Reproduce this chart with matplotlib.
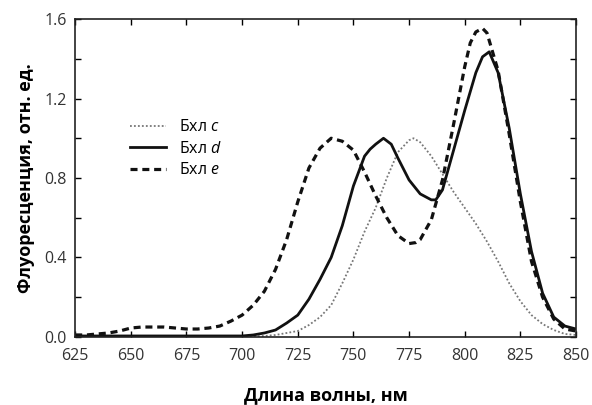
import matplotlib
matplotlib.use("Agg")
import matplotlib.pyplot as plt
from matplotlib.ticker import MultipleLocator

plt.rcParams['font.family'] = ['Open Sans', 'DejaVu Sans']
plt.rcParams['mathtext.fontset'] = 'custom'
plt.rcParams['mathtext.it'] = 'Open Sans:italic'
plt.rcParams['mathtext.rm'] = 'Open Sans'

# Бхл c (dotted)
wl_c = [625, 700, 710, 715, 720, 725, 730, 735, 740, 745, 750, 755, 760, 765, 770,
        775, 777, 780, 785, 790, 795, 800, 805, 810, 815, 820, 825, 830, 835, 840,
        845, 850]
fl_c = [0.0, 0.0, 0.005, 0.01, 0.02, 0.03, 0.06, 0.1, 0.16, 0.27, 0.39, 0.53, 0.65,
        0.8, 0.93, 0.99, 1.0, 0.98, 0.91, 0.82, 0.73, 0.65, 0.57, 0.48, 0.38, 0.27,
        0.18, 0.11, 0.065, 0.035, 0.015, 0.01]

# Бхл d (solid)
wl_d = [625, 650, 675, 700, 705, 710, 715, 720, 725, 730, 735, 740, 745, 750, 755,
        757.5, 760, 763.5, 767, 770, 775, 780, 785, 787, 790, 795, 800, 805, 808, 811,
        815, 820, 825, 830, 835, 840, 845, 850]
fl_d = [0.005, 0.005, 0.005, 0.005, 0.01, 0.02, 0.035, 0.07, 0.11, 0.19, 0.29, 0.4,
        0.56, 0.76, 0.91, 0.945, 0.97, 1.0, 0.97, 0.9, 0.79, 0.72, 0.69, 0.69, 0.74,
        0.94, 1.14, 1.33, 1.41, 1.435, 1.33, 1.05, 0.72, 0.43, 0.22, 0.1, 0.055, 0.04]

# Бхл e (dashed)
wl_e = [625, 630, 635, 640, 645, 650, 655, 660, 665, 670, 675, 680, 685, 690, 695,
        700, 705, 710, 715, 720, 725, 730, 735, 740, 745, 750, 755, 760, 765, 770,
        775, 778, 780, 785, 790, 795, 800, 802.5, 805, 808, 810, 815, 820, 825, 830,
        835, 840, 845, 850]
fl_e = [0.01, 0.01, 0.015, 0.02, 0.03, 0.045, 0.05, 0.05, 0.05, 0.045, 0.04, 0.04,
        0.045, 0.055, 0.08, 0.11, 0.16, 0.23, 0.34, 0.49, 0.68, 0.85, 0.95, 1.0, 0.985,
        0.94, 0.83, 0.71, 0.6, 0.51, 0.47, 0.475, 0.49, 0.59, 0.79, 1.07, 1.36, 1.48,
        1.535, 1.553, 1.53, 1.34, 1.02, 0.68, 0.38, 0.2, 0.09, 0.04, 0.03]

fig, ax = plt.subplots(figsize=(5.92, 4.05), dpi=100)
fig.subplots_adjust(left=0.127, right=0.973, top=0.953, bottom=0.168)

ax.plot(wl_c, fl_c, color='#777777', lw=1.3, ls=(0, (1, 1.2)), label=r'Бхл $\it{c}$')
ax.plot(wl_d, fl_d, color='#111111', lw=2.0, ls='-', label=r'Бхл $\it{d}$')
ax.plot(wl_e, fl_e, color='#111111', lw=2.3, ls=(0, (2.2, 1.5)), label=r'Бхл $\it{e}$')

ax.set_xlim(625, 850)
ax.set_ylim(0, 1.6)
ax.xaxis.set_major_locator(MultipleLocator(25))
ax.yaxis.set_minor_locator(MultipleLocator(0.2))
ax.set_yticks([0, 0.4, 0.8, 1.2, 1.6])
ax.set_yticklabels(['0.0', '0.4', '0.8', '1.2', '1.6'])
ax.tick_params(which='both', direction='in', top=True, right=True,
               labelsize=11.5, labelcolor='#333333', width=1.0, length=4)
ax.tick_params(axis='x', pad=8)
ax.tick_params(axis='y', pad=6)

for s in ax.spines.values():
    s.set_linewidth(1.2)
    s.set_color('#222222')

ax.set_xlabel('Длина волны, нм', fontsize=13, fontweight='bold', labelpad=16)
ax.set_ylabel('Флуоресценция, отн. ед.', fontsize=13, fontweight='bold', labelpad=7)

ax.legend(loc='upper left', bbox_to_anchor=(0.08, 0.73), frameon=False,
          fontsize=11.5, handlelength=2.3, labelspacing=0.35)

plt.savefig('out.png')
